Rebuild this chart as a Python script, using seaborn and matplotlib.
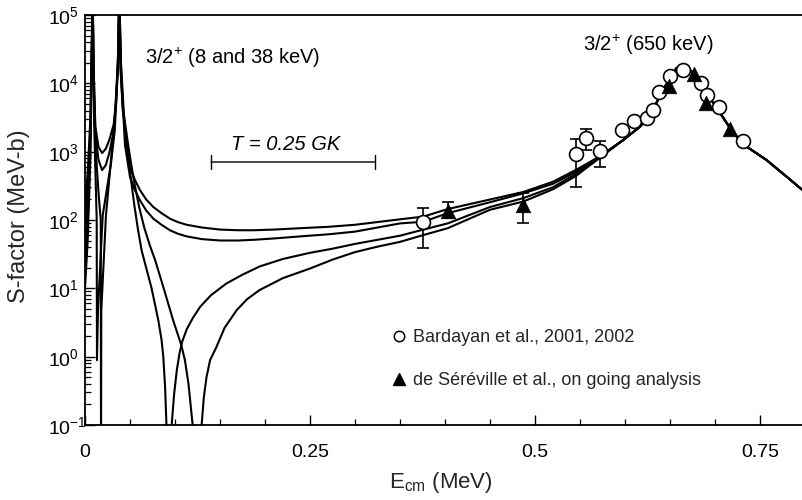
import numpy as np
import pandas as pd
import matplotlib
matplotlib.use("Agg")
import matplotlib.pyplot as plt
import matplotlib.transforms as mtransforms
from matplotlib.lines import Line2D
from matplotlib.ticker import FixedLocator, FixedFormatter, LogLocator, LogFormatterSciNotation, NullFormatter
import seaborn as sns

# ---------------- data ----------------
# R-matrix curves: energy (MeV) and log10 S-factor (MeV-b)
c1_E = [0.0, 0.003, 0.006, 0.0085, 0.0095, 0.0115, 0.015, 0.019, 0.023, 0.027, 0.0319, 0.0345, 0.0365, 0.0381,
        0.040, 0.0444, 0.050, 0.055, 0.061, 0.068, 0.0759, 0.085, 0.0944, 0.103, 0.113, 0.13, 0.15, 0.17, 0.187,
        0.21, 0.239, 0.27, 0.30, 0.35, 0.376, 0.403, 0.45, 0.487, 0.52, 0.545, 0.572]
c1_logS = [2.2, 2.7, 3.5, 5.3, 4.3, 3.37, 3.07, 2.98, 3.04, 3.17, 3.4, 3.75, 4.3, 5.3,
           4.3, 3.27, 2.78, 2.6, 2.44, 2.3, 2.19, 2.1, 2.02, 1.97, 1.93, 1.89, 1.86, 1.85, 1.85,
           1.86, 1.88, 1.9, 1.93, 2.01, 2.05, 2.16, 2.30, 2.41, 2.56, 2.73, 2.93]

c2_E = [0.0, 0.003, 0.006, 0.0085, 0.0095, 0.0115, 0.015, 0.019, 0.023, 0.027, 0.0319, 0.0345, 0.0365, 0.0381,
        0.040, 0.0444, 0.050, 0.055, 0.061, 0.068, 0.0759, 0.085, 0.0944, 0.103, 0.113, 0.13, 0.15, 0.17, 0.187,
        0.21, 0.239, 0.27, 0.30, 0.35, 0.376, 0.403, 0.45, 0.487, 0.52, 0.545, 0.572]
c2_logS = [1.8, 2.4, 3.3, 5.3, 4.2, 3.25, 2.88, 2.73, 2.8, 2.98, 3.3, 3.7, 4.25, 5.3,
           4.2, 3.1, 2.63, 2.45, 2.29, 2.14, 2.02, 1.93, 1.85, 1.8, 1.76, 1.72, 1.70, 1.70, 1.71,
           1.73, 1.76, 1.79, 1.83, 1.95, 1.975, 2.10, 2.26, 2.39, 2.53, 2.70, 2.93]

c3_E = [0.0, 0.003, 0.006, 0.0085, 0.0100, 0.0118, 0.0130, 0.0133, 0.0144, 0.0197, 0.0289, 0.033, 0.0365, 0.0381,
        0.0395, 0.042, 0.047, 0.051, 0.055, 0.059, 0.063, 0.068, 0.074, 0.0815, 0.085, 0.087, 0.089, 0.0905, 0.093,
        0.0963, 0.099, 0.102, 0.105, 0.108, 0.113, 0.120, 0.128, 0.14, 0.157, 0.175, 0.194, 0.22, 0.25, 0.275, 0.30,
        0.35, 0.376, 0.403, 0.45, 0.487, 0.52, 0.545, 0.572]
c3_logS = [1.4, 2.0, 3.1, 5.3, 3.5, 2.6, 2.0, -0.05, 0.68, 2.07, 2.83, 3.3, 4.2, 5.3,
           4.2, 3.6, 3.05, 2.6, 2.2, 1.85, 1.55, 1.3, 1.0, 0.53, 0.25, 0.0, -0.45, -1.0, -2.0,
           -1.0, -0.55, -0.2, 0.05, 0.22, 0.4, 0.57, 0.73, 0.9, 1.07, 1.2, 1.32, 1.43, 1.52, 1.58, 1.65,
           1.77, 1.86, 1.95, 2.19, 2.32, 2.48, 2.67, 2.92]

c4_E = [0.0, 0.003, 0.006, 0.0085, 0.0100, 0.012, 0.015, 0.0175, 0.0178, 0.0181, 0.0233, 0.0329, 0.0365, 0.0381,
        0.0395, 0.042, 0.0485, 0.054, 0.060, 0.066, 0.072, 0.078, 0.087, 0.098, 0.107, 0.111, 0.115, 0.1196, 0.125,
        0.1296, 0.132, 0.135, 0.139, 0.146, 0.155, 0.1685, 0.18, 0.194, 0.22, 0.25, 0.275, 0.30, 0.325,
        0.35, 0.376, 0.403, 0.45, 0.487, 0.52, 0.545, 0.572]
c4_logS = [1.0, 1.7, 2.9, 5.3, 3.8, 3.0, 2.4, 2.0, -1.5, 0.68, 2.07, 3.46, 4.3, 5.3,
           4.25, 3.65, 3.05, 2.6, 2.2, 1.88, 1.63, 1.41, 1.02, 0.53, 0.17, -0.05, -0.4, -1.0, -2.0,
           -1.0, -0.6, -0.3, -0.05, 0.14, 0.42, 0.68, 0.84, 0.975, 1.15, 1.29, 1.42, 1.53, 1.61,
           1.68, 1.78, 1.88, 2.15, 2.27, 2.45, 2.64, 2.91]

# common high-energy part (650 keV resonance)
peak_E = [0.598, 0.617, 0.631, 0.642, 0.650, 0.657, 0.664, 0.672, 0.680, 0.691, 0.706, 0.717,
          0.731, 0.757, 0.780, 0.797]
peak_logS = [3.17, 3.37, 3.61, 3.90, 4.07, 4.22, 4.27, 4.195, 4.10, 3.85, 3.56, 3.34,
             3.11, 2.88, 2.63, 2.44]

# Bardayan et al. (open circles)
bard_E = [0.376, 0.545, 0.557, 0.572, 0.597, 0.610, 0.624, 0.631, 0.638, 0.650, 0.664, 0.684, 0.691, 0.704, 0.731]
bard_S = [94, 925, 1600, 1025, 2075, 2840, 3150, 4070, 7400, 12800, 15700, 10000, 6750, 4550, 1430]
bard_lo = [39, 308, 1070, 590] + [np.nan] * 11
bard_hi = [151, 1510, 2150, 1450] + [np.nan] * 11

# de Sereville et al. (filled triangles)
ser_E = [0.403, 0.487, 0.649, 0.677, 0.690, 0.717]
ser_S = [135, 166, 9100, 13500, 5200, 2120]
ser_lo = [106, 89, np.nan, np.nan, np.nan, np.nan]
ser_hi = [186, 250, np.nan, np.nan, np.nan, np.nan]

gamow_window = [0.14, 0.322]   # T = 0.25 GK

x_ticks = [0.0, 0.25, 0.5, 0.75]
x_ticklabels = ["0", "0.25", "0.5", "0.75"]

# ---------------- style ----------------
sns.set_theme(style="ticks")
plt.rcParams["font.family"] = ["Liberation Sans", "DejaVu Sans"]
plt.rcParams["mathtext.fontset"] = "custom"
plt.rcParams["mathtext.rm"] = "Liberation Sans"
plt.rcParams["mathtext.it"] = "Liberation Sans:italic"
plt.rcParams["mathtext.bf"] = "Liberation Sans:bold"

fig = plt.figure(figsize=(8.02, 5.0), dpi=100)
ax = fig.add_axes([85 / 802, 75 / 500, 717 / 802, 410 / 500])

rows = []
for name, E, L in [("c1", c1_E, c1_logS), ("c2", c2_E, c2_logS),
                   ("c3", c3_E, c3_logS), ("c4", c4_E, c4_logS)]:
    for e, l in zip(list(E) + peak_E, list(L) + peak_logS):
        rows.append({"curve": name, "E": e, "S": 10.0 ** l})
df = pd.DataFrame(rows)

sns.lineplot(data=df, x="E", y="S", units="curve", estimator=None, sort=False,
             color="black", lw=1.5, ax=ax, legend=False)

# error bars
ax.errorbar(bard_E, bard_S,
            yerr=[np.array(bard_S) - np.array(bard_lo), np.array(bard_hi) - np.array(bard_S)],
            fmt="none", ecolor="black", elinewidth=1.2, capsize=4, capthick=1.2, zorder=3)
ax.errorbar(ser_E, ser_S,
            yerr=[np.array(ser_S) - np.array(ser_lo), np.array(ser_hi) - np.array(ser_S)],
            fmt="none", ecolor="black", elinewidth=1.2, capsize=4, capthick=1.2, zorder=3)

bd = pd.DataFrame({"E": bard_E, "S": bard_S})
sd = pd.DataFrame({"E": ser_E, "S": ser_S})
sns.scatterplot(data=bd, x="E", y="S", marker="o", s=100, facecolor="white",
                edgecolor="black", linewidth=1.2, ax=ax, zorder=4)
sns.scatterplot(data=sd, x="E", y="S", marker="^", s=110, color="black",
                edgecolor="black", linewidth=0.5, ax=ax, zorder=5)

ax.set_yscale("log")
ax.set_xlim(0, 717 / 900)
ax.set_ylim(1e-1, 1e5)

ax.xaxis.set_major_locator(FixedLocator(x_ticks))
ax.xaxis.set_major_formatter(FixedFormatter(x_ticklabels))
ax.xaxis.set_minor_locator(FixedLocator(np.arange(0.05, 0.80, 0.05)))
ax.yaxis.set_major_locator(LogLocator(base=10, numticks=10))
ax.yaxis.set_major_formatter(LogFormatterSciNotation())
ax.yaxis.set_minor_locator(LogLocator(base=10, subs=np.arange(2, 10), numticks=20))
ax.yaxis.set_minor_formatter(NullFormatter())
ax.xaxis.offsetText.set_visible(False)
ax.yaxis.offsetText.set_visible(False)

ax.tick_params(axis="both", which="major", direction="in", length=7, width=1.0,
               labelsize=14, colors="black")
ax.tick_params(axis="both", which="minor", direction="in", length=4, width=0.9, colors="black")
ax.tick_params(axis="x", which="major", pad=14)
ax.tick_params(axis="y", which="major", pad=27)
for lab in ax.get_yticklabels():
    lab.set_horizontalalignment("left")

for side in ["left", "bottom", "top"]:
    ax.spines[side].set_visible(True)
    ax.spines[side].set_linewidth(1.3)
    ax.spines[side].set_color("black")
ax.spines["right"].set_visible(False)
ax.grid(False)

ax.set_xlabel(r"E$_{\rm cm}$ (MeV)", fontsize=16)
ax.set_ylabel("S-factor (MeV-b)", fontsize=17)
ax.xaxis.set_label_coords((441 - 85) / 717, (425 - 470) / 410)
ax.yaxis.set_label_coords((30 - 85) / 717, 0.51)

# annotations
ax.text((145 - 85) / 717, (425 - 58) / 410, r"3/2$^{+}$ (8 and 38 keV)", transform=ax.transAxes,
        fontsize=14.5, ha="left", va="center", color="black")
ax.text((583 - 85) / 717, (425 - 45) / 410, r"3/2$^{+}$ (650 keV)", transform=ax.transAxes,
        fontsize=14.5, ha="left", va="center", color="black")
ax.text((286 - 85) / 717, (425 - 145) / 410, "T = 0.25 GK", transform=ax.transAxes,
        fontsize=14.5, ha="center", va="center", style="italic", color="black")

trans = mtransforms.blended_transform_factory(ax.transData, ax.transAxes)
ax.annotate("", xy=(gamow_window[1], (425 - 162) / 410), xytext=(gamow_window[0], (425 - 162) / 410),
            xycoords=trans, textcoords=trans,
            arrowprops=dict(arrowstyle="|-|, widthA=0.4, widthB=0.4", lw=1.0, color="black",
                            shrinkA=0, shrinkB=0))

handles = [Line2D([], [], marker="o", ls="none", mfc="white", mec="black", mew=1.1, ms=7.5),
           Line2D([], [], marker="^", ls="none", mfc="black", mec="black", ms=8)]
ax.legend(handles, ["Bardayan et al., 2001, 2002", "de Séréville et al., on going analysis"],
          loc="upper left", bbox_to_anchor=((394 - 85) / 717, (425 - 329) / 410),
          frameon=False, fontsize=13, handlelength=0.6, handletextpad=0.45,
          labelspacing=1.45, borderaxespad=0, borderpad=0)

fig.savefig("out.png", dpi=100)
